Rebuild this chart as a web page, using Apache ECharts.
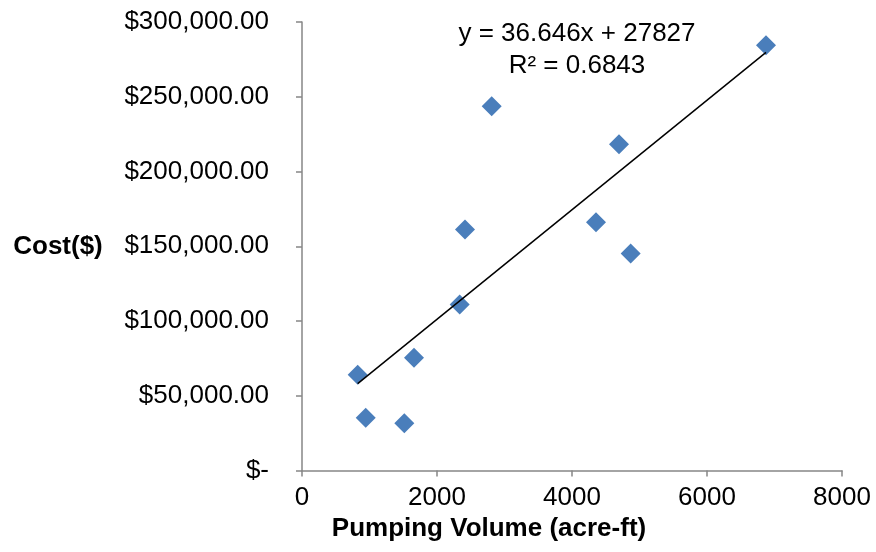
<!DOCTYPE html>
<html>
<head>
<meta charset="utf-8">
<script src="https://cdn.jsdelivr.net/npm/echarts@6/dist/echarts.min.js"></script>
<style>html,body{margin:0;padding:0;background:#fff;}#c{width:876px;height:552px;}</style>
</head>
<body>
<div id="c"></div>
<script>
// Data
var pumpingVolume = [825, 944, 1516, 1659, 2336, 2415, 2810, 4356, 4696, 4869, 6874];
var costDollars = [64000, 35300, 31550, 75400, 111100, 161200, 243650, 166100, 218250, 145200, 284400];
// Trendline as stated on the chart
var trendSlope = 36.646;
var trendIntercept = 27827;
var trendEquation = 'y = 36.646x + 27827';
var trendR2 = 'R² = 0.6843';
var xTicks = [0, 2000, 4000, 6000, 8000];
var yTicks = [0, 50000, 100000, 150000, 200000, 250000, 300000];
var xTitle = 'Pumping Volume (acre-ft)';
var yTitle = 'Cost($)';

var points = pumpingVolume.map(function (v, i) { return [v, costDollars[i]]; });
var xMin = Math.min.apply(null, pumpingVolume), xMax = Math.max.apply(null, pumpingVolume);
var trend = [[xMin, trendSlope * xMin + trendIntercept], [xMax, trendSlope * xMax + trendIntercept]];

function money(v) {
  if (v === 0) return '$-';
  return '$' + v.toLocaleString('en-US', {minimumFractionDigits: 2, maximumFractionDigits: 2});
}

var FONT = 'Liberation Sans, Arial, sans-serif';
var chart = echarts.init(document.getElementById('c'), null, {renderer: 'canvas'});
chart.setOption({
  animation: false,
  backgroundColor: '#fff',
  grid: {left: 302, right: 34, top: 22, bottom: 81.5, containLabel: false, outerBoundsMode: 'none'},
  xAxis: {
    type: 'value', min: xTicks[0], max: xTicks[xTicks.length - 1], interval: 2000,
    axisLine: {show: true, lineStyle: {color: '#868686', width: 1.5}},
    axisTick: {show: true, length: 6, lineStyle: {color: '#868686', width: 1.5}},
    splitLine: {show: false},
    axisLabel: {color: '#000', fontSize: 26, fontFamily: FONT, margin: 14, showMaxLabel: true, showMinLabel: true,
      formatter: function (v) { return String(v); }}
  },
  yAxis: {
    type: 'value', min: yTicks[0], max: yTicks[yTicks.length - 1], interval: 50000,
    axisLine: {show: true, lineStyle: {color: '#868686', width: 1.5}},
    axisTick: {show: true, length: 6, lineStyle: {color: '#868686', width: 1.5}},
    splitLine: {show: false},
    axisLabel: {color: '#000', fontSize: 26, fontFamily: FONT, margin: 33, formatter: money}
  },
  graphic: [
    {type: 'text', x: 58, y: 247, style: {text: yTitle, fill: '#000', font: 'bold 26px ' + FONT, textAlign: 'center', textVerticalAlign: 'middle'}},
    {type: 'text', x: 489, y: 529, style: {text: xTitle, fill: '#000', font: 'bold 26px ' + FONT, textAlign: 'center', textVerticalAlign: 'middle'}},
    {type: 'text', x: 577, y: 34, style: {text: trendEquation, fill: '#000', font: '26px ' + FONT, textAlign: 'center', textVerticalAlign: 'middle'}},
    {type: 'text', x: 577, y: 66, style: {text: trendR2, fill: '#000', font: '26px ' + FONT, textAlign: 'center', textVerticalAlign: 'middle'}}
  ],
  series: [
    {
      type: 'line', data: trend, symbol: 'none', z: 3,
      lineStyle: {color: '#000', width: 1.5}
    },
    {
      type: 'scatter', data: points, symbol: 'diamond', symbolSize: 20, z: 2,
      itemStyle: {color: '#4A7EBB', opacity: 1}
    }
  ]
});
</script>
</body>
</html>
